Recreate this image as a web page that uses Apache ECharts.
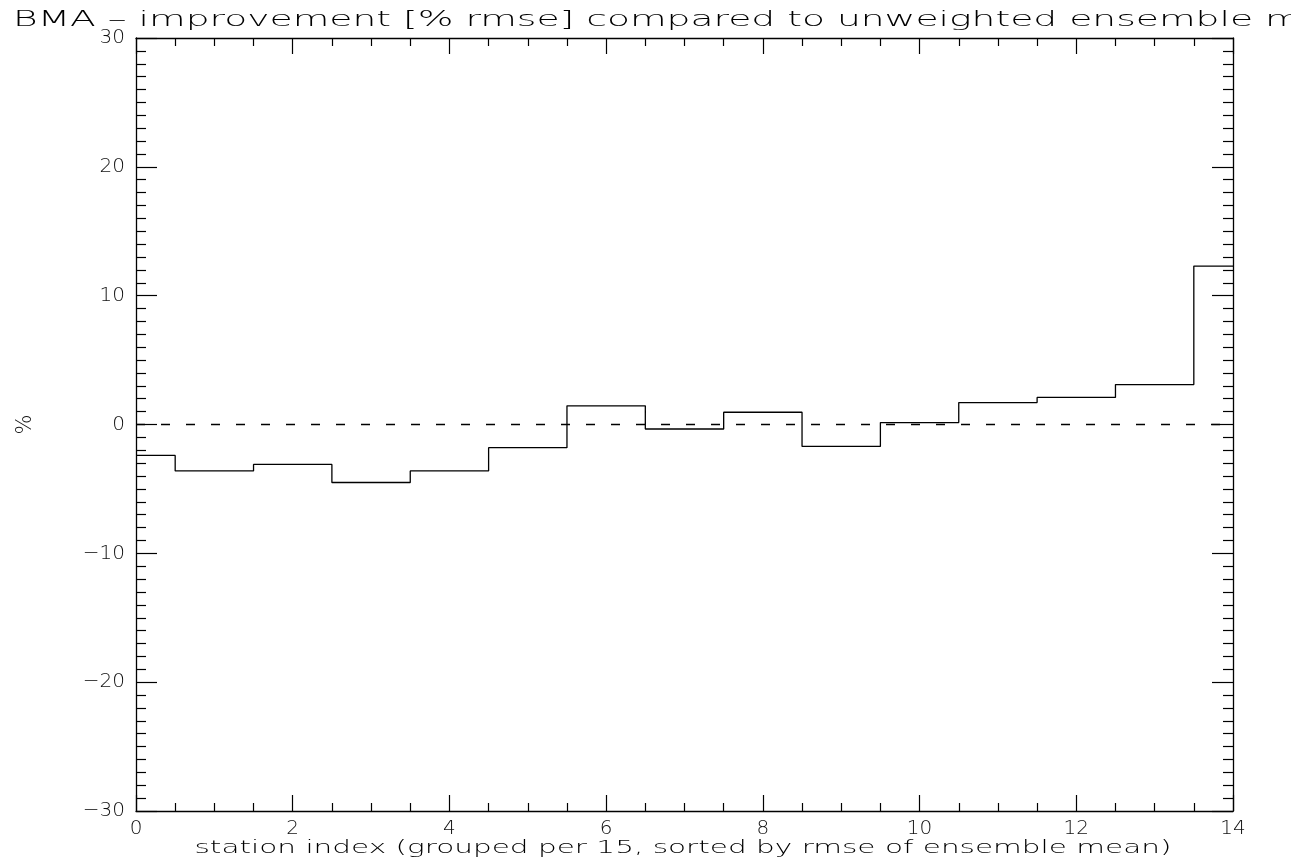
<!DOCTYPE html>
<html><head><meta charset="utf-8"></head>
<body style="margin:0;background:#fff">
<div id="c" style="width:1291px;height:861px"></div>
<script src="https://cdn.jsdelivr.net/npm/echarts@6/dist/echarts.min.js"></script>
<script>
// ---- data ----
var stationIndex = [0,1,2,3,4,5,6,7,8,9,10,11,12,13,14];
var improvement = [-2.4,-3.6,-3.1,-4.5,-3.6,-1.8,1.45,-0.35,0.95,-1.7,0.15,1.7,2.1,3.1,12.3];
var zeroLineX = [0,14];
var titleText = 'BMA \u2013 improvement [% rmse] compared to unweighted ensemble mean';
var titleVisiblePart = 'BMA \u2013 improvement [% rmse] compared to unweighted ensemble ';
var xName = 'station index (grouped per 15, sorted by rmse of ensemble mean)';
var yName = '%';

// ---- style helpers ----
var FONT = 'DejaVu Sans';
function measure(txt, size){
  var cv = document.createElement('canvas').getContext('2d');
  cv.font = '200 ' + size + 'px "' + FONT + '"';
  return cv.measureText(txt).width;
}
var titleSize = 21, nameSize = 17;
var titleScale = (1265 - 13) / measure(titleVisiblePart, titleSize);
var nameScale = (1172 - 195) / measure(xName, nameSize);

var chart = echarts.init(document.getElementById('c'));
var axisLine = {show:true, onZero:false, lineStyle:{color:'#000', width:1.3}};
var lbl = {color:'#111', fontFamily:FONT, fontWeight:300, fontSize:20};
var minusFmt = function(v){ return v < 0 ? '\u2212' + Math.abs(v) : String(v); };
var xTick = {show:true, inside:true, length:16, lineStyle:{color:'#000', width:1.2}};
var xMinor = {show:true, splitNumber:4, length:8, lineStyle:{color:'#000', width:1.2}};
var yTick = {show:true, inside:true, length:21, lineStyle:{color:'#000', width:1.2}};
var yMinor = {show:true, splitNumber:10, length:10, lineStyle:{color:'#000', width:1.2}};

chart.setOption({
  animation:false,
  backgroundColor:'#fff',
  grid:{left:136, right:58, top:38, bottom:50},
  xAxis:[
    {type:'value', min:0, max:14, interval:2, position:'bottom',
     axisLine:axisLine, splitLine:{show:false}, axisTick:xTick, minorTick:xMinor,
     axisLabel:Object.assign({margin:8}, lbl)},
    {type:'value', min:0, max:14, interval:2, position:'top',
     axisLine:axisLine, splitLine:{show:false}, axisTick:xTick, minorTick:xMinor,
     axisLabel:{show:false}}
  ],
  yAxis:[
    {type:'value', min:-30, max:30, interval:10, position:'left',
     axisLine:axisLine, splitLine:{show:false}, axisTick:yTick, minorTick:yMinor,
     axisLabel:Object.assign({margin:11, formatter:minusFmt}, lbl),
     name:yName, nameLocation:'middle', nameRotate:90, nameGap:100,
     nameTextStyle:{color:'#111', fontFamily:FONT, fontWeight:300, fontSize:21}},
    {type:'value', min:-30, max:30, interval:10, position:'right',
     axisLine:axisLine, splitLine:{show:false}, axisTick:yTick, minorTick:yMinor,
     axisLabel:{show:false}}
  ],
  series:[
    {type:'line', step:'middle', xAxisIndex:0, yAxisIndex:0, symbol:'none',
     data:stationIndex.map(function(x,i){return [x, improvement[i]];}),
     lineStyle:{color:'#000', width:1.3}},
    {type:'line', xAxisIndex:0, yAxisIndex:0, symbol:'none',
     data:zeroLineX.map(function(x){return [x, 0];}),
     lineStyle:{color:'#000', width:1.3, type:[9,16]}}
  ],
  graphic:[
    {type:'text', x:13, y:21, scaleX:titleScale, originX:0, originY:0,
     style:{text:titleText, font:'200 '+titleSize+'px "'+FONT+'"', fill:'#000',
            textAlign:'left', textVerticalAlign:'middle'}},
    {type:'text', x:683, y:849, scaleX:nameScale, originX:0, originY:0,
     style:{text:xName, font:'200 '+nameSize+'px "'+FONT+'"', fill:'#000',
            textAlign:'center', textVerticalAlign:'middle'}}
  ]
});
</script>
</body></html>
